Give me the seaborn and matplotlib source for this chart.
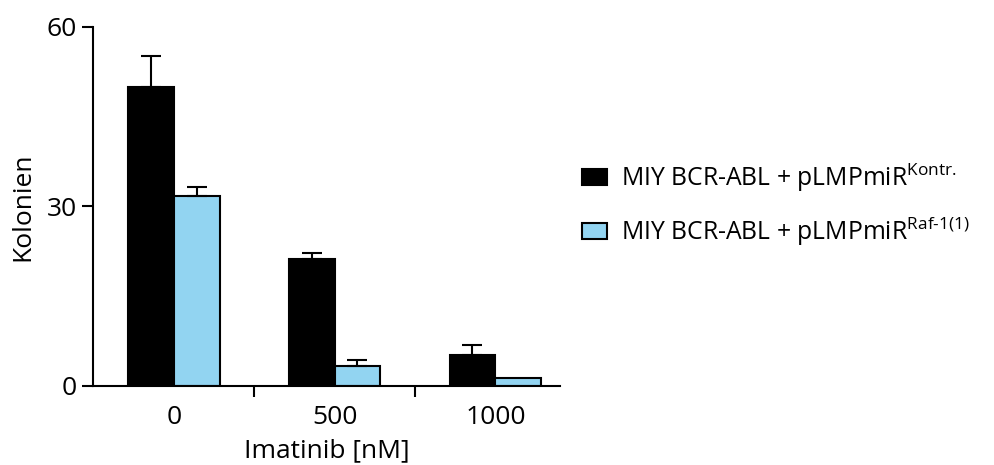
import pandas as pd
import numpy as np
import matplotlib
matplotlib.use('Agg')
import matplotlib.pyplot as plt
import seaborn as sns
from matplotlib.patches import Patch

# Data
doses = ['0', '500', '1000']
groups = [r'MIY BCR-ABL + pLMPmiR$^{\mathrm{Kontr.}}$',
          r'MIY BCR-ABL + pLMPmiR$^{\mathrm{Raf\text{-}1(1)}}$']
kontr_mean = [50.0, 21.2, 5.2]
kontr_err = [5.2, 1.0, 1.6]
raf_mean = [31.8, 3.3, 1.3]
raf_err = [1.5, 1.0, 0.0]

colors = ['#000000', '#92D4F1']

df = pd.DataFrame({
    'dose': doses * 2,
    'group': [groups[0]] * 3 + [groups[1]] * 3,
    'value': kontr_mean + raf_mean,
    'err': kontr_err + raf_err,
})

sns.set_style('white')
plt.rcParams['font.family'] = ['Open Sans', 'DejaVu Sans']
plt.rcParams['mathtext.fontset'] = 'custom'
plt.rcParams['mathtext.rm'] = 'Open Sans'
plt.rcParams['mathtext.it'] = 'Open Sans'
plt.rcParams['text.color'] = 'black'
plt.rcParams['axes.labelcolor'] = 'black'
plt.rcParams['xtick.color'] = 'black'
plt.rcParams['ytick.color'] = 'black'

fig = plt.figure(figsize=(9.94, 4.65), dpi=100)
ax = fig.add_axes([0.094, 0.170, 0.469, 0.772])

sns.barplot(data=df, x='dose', y='value', hue='group', palette=colors,
            width=0.57, errorbar=None, edgecolor='black', linewidth=1.5,
            saturation=1, legend=False, ax=ax)

# upper error bars from the drawn bars
errs = kontr_err + raf_err
for p, e in zip(ax.patches, errs):
    if e <= 0:
        continue
    xc = p.get_x() + p.get_width() / 2
    ax.errorbar(xc, p.get_height(), yerr=[[0], [e]], fmt='none',
                ecolor='black', elinewidth=1.5, capsize=7, capthick=1.5)

ax.set_ylim(0, 60)
ax.set_xlim(-0.5, 2.4)
ax.set_yticks([0, 30, 60])
ax.set_xticks([0, 1, 2])
ax.set_xticks([0.5, 1.5], minor=True)
ax.tick_params(axis='x', which='major', length=0, pad=14, labelsize=19)
ax.tick_params(axis='x', which='minor', length=8, width=1.5, direction='out', bottom=True)
ax.tick_params(axis='y', length=8, width=1.5, direction='out', left=True, labelsize=19, pad=4)

for s in ['top', 'right']:
    ax.spines[s].set_visible(False)
for s in ['left', 'bottom']:
    ax.spines[s].set_linewidth(1.5)
    ax.spines[s].set_color('black')

ax.set_xlabel('Imatinib [nM]', fontsize=19, labelpad=6)
ax.set_ylabel('Kolonien', fontsize=19, labelpad=8)

handles = [Patch(facecolor=c, edgecolor='black', linewidth=1.5) for c in colors]
fig.legend(handles, groups, loc='center left', bbox_to_anchor=(0.586, 0.56),
           frameon=False, fontsize=17.8, handlelength=1.0, handleheight=0.65,
           labelspacing=0.85, handletextpad=0.55, borderpad=0, borderaxespad=0)

fig.savefig('out.png', dpi=100)
